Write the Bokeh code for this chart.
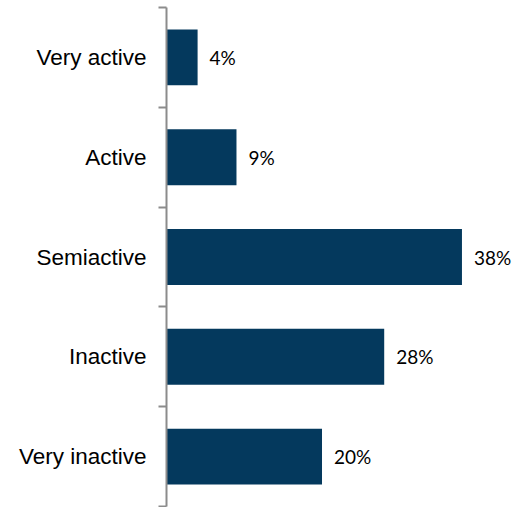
from bokeh.plotting import figure
from bokeh.models import ColumnDataSource, FixedTicker, Range1d
from bokeh.core.properties import value
from bokeh.embed import file_html
from bokeh.resources import INLINE

categories = ["Very active", "Active", "Semiactive", "Inactive", "Very inactive"]
values = [4, 9, 38, 28, 20]
value_labels = ["4%", "9%", "38%", "28%", "20%"]

n = len(categories)
centers = [n - i - 0.5 for i in range(n)]

src = ColumnDataSource(dict(y=centers, v=values, lab=value_labels))

p = figure(width=512, height=507, output_backend="svg", toolbar_location=None,
           x_range=Range1d(0, 44.5), y_range=Range1d(0, n),
           x_axis_location=None,
           min_border_left=166, min_border_right=0, min_border_top=7, min_border_bottom=1)
p.outline_line_color = None
p.xgrid.visible = False
p.ygrid.visible = False
p.background_fill_color = "white"
p.border_fill_color = "white"

p.hbar(y="y", left=0, right="v", height=0.56, source=src,
       fill_color="#04395D", line_color=None)

p.text(x="v", y="y", text="lab", source=src, x_offset=12,
       text_baseline="middle", text_align="left",
       text_font=value("Lato"), text_font_size=value("19px"), text_color="#000000")

ax = p.yaxis[0]
ax.ticker = FixedTicker(ticks=centers, minor_ticks=list(range(n + 1)))
ax.major_label_overrides = {c: lab for c, lab in zip(centers, categories)}
ax.major_tick_out = 0
ax.major_tick_in = 0
ax.minor_tick_out = 8
ax.minor_tick_in = 0
ax.minor_tick_line_color = "#8c8c8c"
ax.minor_tick_line_width = 2
ax.axis_line_color = "#8c8c8c"
ax.axis_line_width = 2
ax.major_label_standoff = 12
ax.major_label_text_font = "Liberation Sans"
ax.major_label_text_font_size = "22.5px"
ax.major_label_text_color = "#000000"

open("out.html", "w").write(file_html(p, INLINE))
